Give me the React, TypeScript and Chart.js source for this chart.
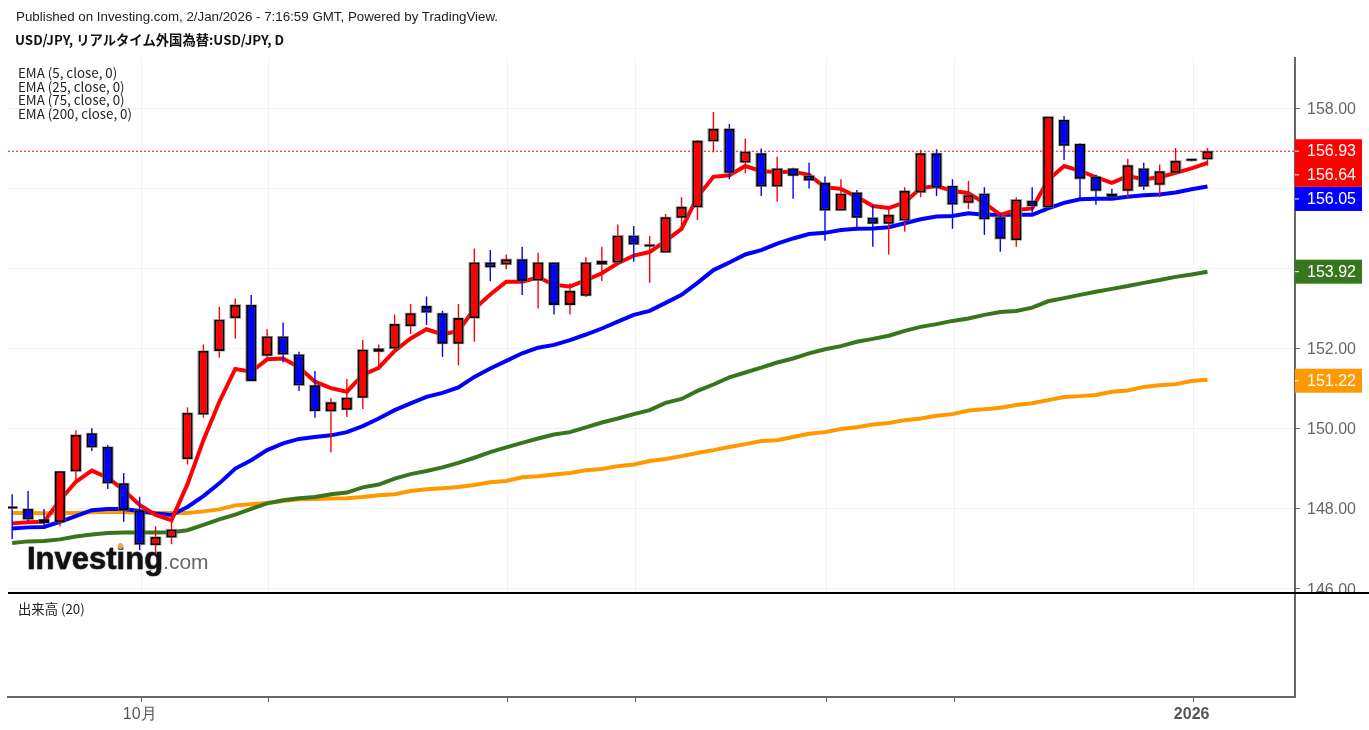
import { useEffect, useRef } from "react";
import { Chart, registerables } from "chart.js";

Chart.register(...registerables);

const opens = [
  148.02, 147.99, 147.73, 147.66, 148.93, 149.88, 149.54, 148.63, 147.96, 147.09,
  147.28, 149.24, 150.35, 151.94, 152.76, 153.09, 151.82, 152.3, 151.85, 151.08,
  150.43, 150.47, 150.77, 151.92, 152.0, 152.56, 153.06, 152.88, 152.12, 152.76,
  154.15, 154.1, 154.23, 153.7, 154.15, 153.09, 153.32, 154.1, 154.15, 154.82,
  154.55, 154.4, 155.27, 155.53, 157.18, 157.49, 156.65, 156.88, 156.05, 156.5,
  156.32, 156.14, 155.45, 155.9, 155.27, 155.12, 155.2, 155.9, 156.88, 156.06,
  155.64, 155.87, 155.28, 154.71, 155.69, 155.53, 157.71, 157.11, 156.29, 155.87,
  155.94, 156.5, 156.09, 156.39, 156.69, 156.73
];
const closes = [
  148.0, 147.73, 147.64, 148.93, 149.84, 149.53, 148.63, 147.96, 147.1, 147.29,
  147.48, 150.39, 151.94, 152.72, 153.09, 151.19, 152.3, 151.85, 151.08, 150.44,
  150.66, 150.77, 151.97, 152.0, 152.61, 152.88, 152.9, 152.12, 152.76, 154.15,
  154.03, 154.23, 153.69, 154.15, 153.09, 153.44, 154.15, 154.19, 154.82, 154.6,
  154.58, 155.28, 155.54, 157.19, 157.49, 156.39, 156.92, 156.05, 156.5, 156.32,
  156.2, 155.45, 155.87, 155.27, 155.12, 155.34, 155.94, 156.88, 156.02, 155.6,
  155.83, 155.23, 154.74, 155.72, 155.56, 157.79, 157.07, 156.24, 155.94, 155.79,
  156.58, 156.05, 156.43, 156.69, 156.7, 156.93
];
const highs = [
  148.36, 148.44, 147.99, 148.94, 149.96, 150.01, 149.59, 148.89, 148.29, 147.56,
  147.76, 150.53, 152.1, 153.04, 153.25, 153.34, 152.48, 152.65, 151.92, 151.44,
  150.76, 151.24, 152.21, 152.1, 152.85, 153.11, 153.3, 152.94, 153.11, 154.5,
  154.46, 154.35, 154.54, 154.39, 154.15, 153.63, 154.28, 154.54, 155.1, 155.06,
  154.81, 155.36, 155.78, 157.21, 157.91, 157.61, 157.24, 157.0, 156.79, 156.52,
  156.64, 156.3, 156.23, 155.96, 155.58, 155.46, 156.03, 156.96, 156.98, 156.23,
  156.19, 156.03, 155.39, 155.78, 156.03, 157.8, 157.81, 157.13, 156.34, 155.99,
  156.74, 156.64, 156.6, 157.01, 156.71, 157.01
];
const lows = [
  147.24, 147.69, 147.51, 147.56, 148.71, 149.44, 148.49, 147.67, 146.96, 146.89,
  147.11, 149.1, 150.27, 151.77, 152.25, 151.19, 151.71, 151.65, 150.94, 150.27,
  149.41, 150.29, 150.49, 151.54, 151.89, 152.36, 152.59, 151.79, 151.58, 152.17,
  153.68, 153.98, 153.34, 153.0, 152.85, 152.85, 153.29, 153.69, 154.13, 154.17,
  153.64, 154.4, 154.98, 155.21, 156.9, 156.23, 156.38, 155.81, 155.67, 155.74,
  156.0, 154.69, 155.45, 155.0, 154.54, 154.35, 154.92, 155.78, 155.81, 154.99,
  155.48, 154.84, 154.42, 154.54, 155.39, 155.53, 156.71, 155.75, 155.59, 155.74,
  155.77, 155.96, 155.78, 156.38, 156.68, 156.57
];

const ema5 = [
  147.63, 147.66, 147.67, 148.21, 148.67, 148.95, 148.77, 148.46, 148.09, 147.84,
  147.71, 148.61, 149.71, 150.67, 151.49, 151.42, 151.73, 151.75, 151.53, 151.17,
  151.01, 150.92, 151.34, 151.52, 151.94, 152.25, 152.48, 152.35, 152.44, 152.99,
  153.35, 153.67, 153.67, 153.78, 153.59, 153.55, 153.71, 153.88, 154.13, 154.32,
  154.41, 154.69, 154.99, 155.79, 156.29, 156.33, 156.56, 156.43, 156.41, 156.42,
  156.34, 156.03, 155.99, 155.79, 155.56, 155.51, 155.65, 156.01, 156.06, 155.94,
  155.88, 155.64, 155.34, 155.46, 155.5, 156.21, 156.56, 156.44, 156.28, 156.14,
  156.31, 156.23, 156.28, 156.39, 156.5, 156.64
];
const ema25 = [
  147.5, 147.53, 147.54, 147.67, 147.81, 147.96, 147.99, 147.99, 147.94, 147.88,
  147.84, 148.04, 148.31, 148.63, 149.0, 149.21, 149.46, 149.63, 149.74, 149.79,
  149.83, 149.91, 150.06, 150.25, 150.46, 150.63, 150.79, 150.89, 151.03, 151.29,
  151.5, 151.69, 151.88, 152.02, 152.09, 152.21, 152.35, 152.5, 152.67, 152.84,
  152.94, 153.14, 153.34, 153.64, 153.96, 154.15, 154.35, 154.46, 154.62, 154.75,
  154.86, 154.89, 154.96, 154.99, 155.0, 155.03, 155.13, 155.23, 155.3, 155.31,
  155.38, 155.34, 155.34, 155.34, 155.34, 155.5, 155.64, 155.73, 155.74, 155.74,
  155.79, 155.83, 155.85, 155.9, 155.98, 156.05
];
const ema75 = [
  147.14, 147.18, 147.19, 147.23, 147.3, 147.35, 147.39, 147.4, 147.4, 147.4,
  147.41, 147.46, 147.59, 147.73, 147.85, 147.99, 148.13, 148.21, 148.26, 148.29,
  148.36, 148.4, 148.53, 148.6, 148.75, 148.86, 148.94, 149.03, 149.14, 149.27,
  149.41, 149.53, 149.64, 149.75, 149.85, 149.91, 150.03, 150.15, 150.25, 150.36,
  150.46, 150.64, 150.74, 150.94, 151.1, 151.28, 151.4, 151.52, 151.65, 151.75,
  151.88, 151.98, 152.06, 152.17, 152.24, 152.32, 152.44, 152.54, 152.61, 152.69,
  152.75, 152.84, 152.91, 152.94, 153.02, 153.18, 153.26, 153.34, 153.42, 153.49,
  153.56, 153.64, 153.71, 153.79, 153.85, 153.92
];
const ema200 = [
  147.89, 147.89, 147.88, 147.89, 147.89, 147.91, 147.92, 147.91, 147.9, 147.89,
  147.89, 147.89, 147.93, 147.98, 148.08, 148.11, 148.14, 148.19, 148.23, 148.24,
  148.25, 148.26, 148.29, 148.33, 148.36, 148.44, 148.48, 148.51, 148.54, 148.59,
  148.66, 148.69, 148.78, 148.81, 148.85, 148.89, 148.96, 148.99, 149.06, 149.1,
  149.19, 149.24, 149.31, 149.39, 149.46, 149.54, 149.61, 149.69, 149.71, 149.79,
  149.87, 149.91, 149.99, 150.03, 150.1, 150.14, 150.21, 150.25, 150.32, 150.36,
  150.45, 150.48, 150.52, 150.59, 150.63, 150.71, 150.79, 150.81, 150.84, 150.92,
  150.95, 151.04, 151.08, 151.11, 151.19, 151.22
];

const priceTicks = [146, 148, 150, 152, 154, 156, 158];
const timeTicks = [8, 16, 31, 39, 51, 59, 74];
const timeLabels = ["10月", "", "", "", "", "", "2026"];
const legendLabels = ["EMA (5, close, 0)", "EMA (25, close, 0)", "EMA (75, close, 0)", "EMA (200, close, 0)"];

const RED = "#ff0000";
const BLUE = "#0000ff";
const GREEN = "#38761d";
const ORANGE = "#ff9900";
const AXIS = "#666666";
const GRID = "#f3f3f3";
const SANS = '"Liberation Sans", Arial, sans-serif';
const CJK = '"Noto Sans CJK JP", sans-serif';

// same index window on both panes so the ticks line up
const X_MIN = -0.26;
const X_MAX = 80.49;
const AXIS_WIDTH = 74;
// time grid sits a little right of the candle centres in the original
const TICK_NUDGE = 0.1;

const last = (a: number[]) => a[a.length - 1];
const timeTickObjects = () => timeTicks.map((t) => ({ value: t + TICK_NUDGE }));

// coloured boxes on the price axis, shifted down where they would overlap
const priceTags = [
  { value: last(closes), color: RED, shift: 0 },
  { value: last(ema5), color: RED, shift: 12 },
  { value: last(ema25), color: BLUE, shift: 12.5 },
  { value: last(ema75), color: GREEN, shift: 0 },
  { value: last(ema200), color: ORANGE, shift: 1 }
];

const priceTagPlugin = {
  id: "priceTags",
  afterDraw(chart: Chart) {
    const { ctx, chartArea, scales } = chart;
    ctx.save();
    ctx.font = `16px ${SANS}`;
    ctx.textBaseline = "middle";
    for (const tag of priceTags) {
      const y = scales.y.getPixelForValue(tag.value) + tag.shift;
      ctx.fillStyle = tag.color;
      ctx.fillRect(chartArea.right, y - 12, 67, 24);
      ctx.fillStyle = "#ffffff";
      ctx.fillRect(chartArea.right, y - 0.5, 4, 1);
      ctx.fillText(tag.value.toFixed(2), chartArea.right + 12, y + 0.5);
    }
    ctx.restore();
  }
};

function PriceChart() {
  const canvasRef = useRef<HTMLCanvasElement | null>(null);

  useEffect(() => {
    if (!canvasRef.current) return;
    const indices = closes.map((_, i) => i);
    const candleColors = closes.map((c, i) => (c >= opens[i] ? RED : BLUE));
    const bodies = indices.map((i) => ({ x: i, y: [opens[i], closes[i]] }));
    const emaLine = (label: string, data: number[], color: string, order: number) => ({
      type: "line" as const,
      label,
      data: data.map((y, x) => ({ x, y })),
      borderColor: color,
      borderWidth: 4,
      pointRadius: 0,
      tension: 0,
      order
    });

    const chart = new Chart(canvasRef.current, {
      data: {
        datasets: [
          {
            type: "bar",
            label: "body",
            data: bodies,
            backgroundColor: candleColors,
            borderColor: "#000000",
            borderWidth: 1.8,
            borderSkipped: false,
            barThickness: 10,
            minBarLength: 2,
            inflateAmount: 0,
            grouped: false,
            order: 0
          },
          {
            type: "bar",
            label: "halo",
            data: bodies,
            backgroundColor: "rgba(110, 110, 110, 0.75)",
            borderWidth: 0,
            barThickness: 10.6,
            minBarLength: 2,
            inflateAmount: 0.5,
            grouped: false,
            order: 1
          },
          {
            type: "bar",
            label: "wick",
            data: indices.map((i) => ({ x: i, y: [lows[i], highs[i]] })),
            backgroundColor: candleColors,
            borderWidth: 0,
            barThickness: 1.4,
            inflateAmount: 0,
            grouped: false,
            order: 2
          },
          {
            type: "line",
            label: "last",
            data: [
              { x: X_MIN, y: last(closes) },
              { x: X_MAX, y: last(closes) }
            ],
            borderColor: RED,
            borderWidth: 1,
            borderDash: [2, 2],
            pointRadius: 0,
            order: 3
          },
          emaLine("EMA 5", ema5, RED, 4),
          emaLine("EMA 25", ema25, BLUE, 5),
          emaLine("EMA 75", ema75, GREEN, 6),
          emaLine("EMA 200", ema200, ORANGE, 7)
        ]
      },
      options: {
        responsive: false,
        animation: false,
        events: [],
        layout: { padding: { left: 8, top: 58, right: 0, bottom: 0 } },
        plugins: { legend: { display: false }, tooltip: { enabled: false } },
        scales: {
          x: {
            type: "linear",
            offset: false,
            min: X_MIN,
            max: X_MAX,
            border: { display: false },
            grid: { color: GRID, offset: false, drawTicks: false },
            ticks: { display: false },
            afterBuildTicks: (scale) => {
              scale.ticks = timeTickObjects();
            },
            afterFit: (scale) => {
              scale.height = 0;
              scale.paddingLeft = 0;
              scale.paddingRight = 0;
            }
          },
          y: {
            position: "right",
            min: 145.89,
            max: 159.26,
            border: { color: AXIS, width: 2 },
            grid: { color: GRID, tickColor: AXIS, tickLength: 5 },
            ticks: {
              color: AXIS,
              padding: 7,
              labelOffset: 1.5,
              font: { size: 16, family: SANS },
              callback: (v) => Number(v).toFixed(2)
            },
            afterBuildTicks: (scale) => {
              scale.ticks = priceTicks.map((value) => ({ value }));
            },
            afterFit: (scale) => {
              scale.width = AXIS_WIDTH;
              // the 146.00 label is meant to be cut off by the pane edge
              scale.paddingTop = 0;
              scale.paddingBottom = 0;
            }
          }
        }
      },
      plugins: [priceTagPlugin]
    });

    return () => chart.destroy();
  }, []);

  return <canvas ref={canvasRef} width={1369} height={593} style={{ position: "absolute", left: 0, top: 0 }} />;
}

function VolumePane() {
  const canvasRef = useRef<HTMLCanvasElement | null>(null);

  useEffect(() => {
    if (!canvasRef.current) return;

    const chart = new Chart(canvasRef.current, {
      data: {
        // the volume pane is empty in the published picture
        datasets: [{ type: "bar", label: "出来高", data: [] }]
      },
      options: {
        responsive: false,
        animation: false,
        events: [],
        layout: { padding: { left: 8, top: 0, right: 0, bottom: 0 } },
        plugins: { legend: { display: false }, tooltip: { enabled: false } },
        scales: {
          x: {
            type: "linear",
            offset: false,
            min: X_MIN,
            max: X_MAX,
            border: { color: AXIS, width: 2 },
            grid: { offset: false, drawOnChartArea: false, tickColor: AXIS, tickLength: 5 },
            ticks: {
              color: "#555555",
              padding: 3,
              labelOffset: -1.5,
              autoSkip: false,
              maxRotation: 0,
              font: (ctx) => ({
                size: 16,
                family: SANS,
                weight: ctx.index === timeTicks.length - 1 ? "bold" : "normal"
              }),
              callback: (_, i) => timeLabels[i]
            },
            afterBuildTicks: (scale) => {
              scale.ticks = timeTickObjects();
            },
            afterFit: (scale) => {
              scale.height = 33;
              scale.paddingLeft = 0;
              scale.paddingRight = 0;
            }
          },
          y: {
            position: "right",
            min: 0,
            max: 1,
            border: { color: AXIS, width: 2 },
            grid: { display: false },
            ticks: { display: false },
            afterFit: (scale) => {
              scale.width = AXIS_WIDTH;
            }
          }
        }
      }
    });

    return () => chart.destroy();
  }, []);

  return <canvas ref={canvasRef} width={1369} height={137} style={{ position: "absolute", left: 0, top: 593 }} />;
}

function Label({ x, y, children, style }: { x: number; y: number; children: React.ReactNode; style?: React.CSSProperties }) {
  return (
    <div
      style={{
        position: "absolute",
        left: x,
        top: y,
        transform: "translateY(-50%)",
        whiteSpace: "nowrap",
        lineHeight: 1,
        fontSize: 13.33,
        color: "#222222",
        fontFamily: CJK,
        ...style
      }}
    >
      {children}
    </div>
  );
}

export default function App() {
  return (
    <div style={{ position: "absolute", left: 0, top: 0, width: 1369, height: 730, overflow: "hidden", background: "#ffffff" }}>
      <PriceChart />
      <VolumePane />
      <div style={{ position: "absolute", left: 8, right: 0, top: 592, height: 2, background: "#000000" }} />

      <Label x={16} y={17} style={{ fontFamily: SANS }}>
        Published on Investing.com, 2/Jan/2026 - 7:16:59 GMT, Powered by TradingView.
      </Label>
      <Label x={15} y={40} style={{ fontWeight: 700, color: "#111111" }}>
        USD/JPY, リアルタイム外国為替:USD/JPY, D
      </Label>
      {legendLabels.map((text, i) => (
        <Label key={text} x={18} y={73 + i * 13.6}>
          {text}
        </Label>
      ))}
      <Label x={18} y={609}>
        出来高 (20)
      </Label>

      <div
        style={{
          position: "absolute",
          left: 27,
          top: 541,
          whiteSpace: "nowrap",
          lineHeight: "36px",
          fontFamily: SANS
        }}
      >
        <span
          style={{
            fontSize: 31,
            fontWeight: 700,
            color: "#111111",
            WebkitTextStroke: "0.5px #111111",
            textShadow: "0 0 2px rgba(0,0,0,0.5)"
          }}
        >
          Investing
        </span>
        <span style={{ fontSize: 21, color: "#666666" }}>.com</span>
      </div>
      <div style={{ position: "absolute", left: 118, top: 543, width: 5, height: 6, borderRadius: 3, background: "#f5a33c" }} />
    </div>
  );
}
